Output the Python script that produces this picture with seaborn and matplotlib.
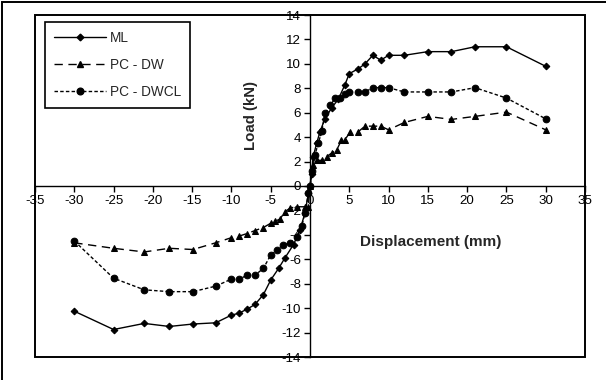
import numpy as np
import pandas as pd
import matplotlib
matplotlib.use("Agg")
import matplotlib.pyplot as plt
import seaborn as sns
from matplotlib.patches import Rectangle
from matplotlib.lines import Line2D

sns.set_theme(style="white")
plt.rcParams['font.family'] = ['Liberation Sans', 'DejaVu Sans']

# ---- data ----
ml_x = [-30.0, -25.0, -21.1, -17.9, -14.9, -12.0, -10.1, -9.0, -8.06, -7.0, -5.94, -5.0,
        -4.0, -3.2, -2.1, -1.27, -0.64, -0.2, 0.0, 0.2, 0.4, 0.85, 1.27, 1.9, 2.76, 3.6,
        4.45, 5.0, 6.15, 7.0, 8.0, 9.0, 10.0, 12.0, 15.0, 18.0, 21.0, 25.0, 30.0]
ml_y = [-10.25, -11.75, -11.25, -11.5, -11.3, -11.2, -10.6, -10.4, -10.1, -9.7, -8.9, -7.7,
        -6.75, -5.9, -4.8, -3.6, -2.2, -0.6, 0.0, 1.0, 2.4, 3.5, 4.45, 5.5, 6.4, 7.1,
        8.3, 9.2, 9.6, 10.0, 10.7, 10.3, 10.7, 10.7, 11.0, 11.0, 11.4, 11.4, 9.8]

dw_x = [-30.0, -25.0, -21.1, -17.9, -14.9, -12.0, -10.1, -9.0, -8.06, -7.0, -5.94, -5.0,
        -4.5, -3.8, -3.2, -2.5, -1.7, -0.64, -0.2, 0.0, 0.4, 0.85, 1.5, 2.1, 2.76, 3.4,
        4.0, 4.45, 5.1, 6.15, 7.0, 8.0, 9.0, 10.0, 12.0, 15.0, 18.0, 21.0, 25.0, 30.0]
dw_y = [-4.65, -5.1, -5.4, -5.1, -5.2, -4.65, -4.25, -4.1, -3.9, -3.65, -3.4, -3.05,
        -2.9, -2.7, -2.1, -1.8, -1.7, -1.7, -1.7, 0.0, 1.7, 2.1, 2.1, 2.4, 2.7, 2.95,
        3.75, 3.8, 4.4, 4.45, 4.9, 4.9, 4.9, 4.6, 5.2, 5.7, 5.45, 5.7, 6.05, 4.6]

dwcl_x = [-30.0, -25.0, -21.1, -17.9, -14.9, -12.0, -10.1, -9.0, -8.06, -7.0, -5.94, -5.0,
          -4.24, -3.4, -2.55, -1.7, -1.06, -0.64, -0.2, 0.0, 0.3, 0.6, 1.06, 1.5, 1.9,
          2.6, 3.2, 3.8, 4.4, 5.0, 6.1, 7.0, 8.0, 9.0, 10.0, 12.0, 15.0, 18.0, 21.0, 25.0, 30.0]
dwcl_y = [-4.5, -7.55, -8.5, -8.65, -8.65, -8.2, -7.65, -7.65, -7.3, -7.3, -6.75, -5.65,
          -5.25, -4.8, -4.7, -4.15, -3.3, -2.2, -0.6, 0.0, 1.2, 2.5, 3.5, 4.5, 5.95,
          6.6, 7.2, 7.2, 7.5, 7.7, 7.7, 7.7, 8.05, 8.05, 8.05, 7.7, 7.7, 7.7, 8.05, 7.2, 5.5]

labels = ["ML", "PC - DW", "PC - DWCL"]
x_ticks = [-35, -30, -25, -20, -15, -10, -5, 0, 5, 10, 15, 20, 25, 30, 35]
y_ticks = [-14, -12, -10, -8, -6, -4, -2, 0, 2, 4, 6, 8, 10, 12, 14]

W, H = 606, 380
fig = plt.figure(figsize=(W / 100, H / 100), dpi=100)
ax = fig.add_axes([35 / W, 1 - 357 / H, 550 / W, 342 / H])

styles = [
    dict(marker="D", markersize=3.4, linestyle="-"),
    dict(marker="^", markersize=4.8, linestyle=(0, (6, 4))),
    dict(marker="o", markersize=4.8, linestyle=(0, (2.5, 1.6))),
]
series = [(ml_x, ml_y), (dw_x, dw_y), (dwcl_x, dwcl_y)]
for (xs, ys), lab, st in zip(series, labels, styles):
    sns.lineplot(x=xs, y=ys, ax=ax, color="black", lw=1.0, sort=False, estimator=None,
                 marker=st["marker"], markersize=st["markersize"], linestyle=st["linestyle"],
                 markerfacecolor="black", markeredgecolor="black", label=lab)

ax.set_xlim(-35, 35)
ax.set_ylim(-14, 14)
ax.set_xticks(x_ticks)
ax.set_yticks(y_ticks)
ax.set_xticklabels([str(v) for v in x_ticks])
ax.set_yticklabels([str(v) for v in y_ticks])

for s in ["left", "bottom"]:
    ax.spines[s].set_position(("data", 0))
    ax.spines[s].set_color("black")
    ax.spines[s].set_linewidth(1.0)
for s in ["top", "right"]:
    ax.spines[s].set_visible(False)
ax.add_patch(Rectangle((0, 0), 1, 1, transform=ax.transAxes, fill=False,
                       edgecolor="black", lw=1.4, clip_on=False, zorder=5))
ax.tick_params(axis="both", direction="out", length=4.5, width=1.0, color="black",
               labelsize=9.6, labelcolor="black", pad=2)
ax.tick_params(axis="x", bottom=True)
ax.tick_params(axis="y", left=True)
ax.set_xlabel("")
ax.set_ylabel("")

fig.text(251 / W, 1 - 115 / H, "Load (kN)", rotation=90, ha="center", va="center",
         fontsize=10.8, fontweight="bold")
fig.text(431 / W, 1 - 242 / H, "Displacement (mm)", ha="center", va="center",
         fontsize=11, fontweight="bold")

handles = [Line2D([], [], color="black", lw=1.0, marker=st["marker"],
                  markersize=st["markersize"], linestyle=st["linestyle"],
                  markerfacecolor="black", markeredgecolor="black") for st in styles]
leg = ax.legend(handles, labels, loc="upper left",
                bbox_to_anchor=(45 / W, 1 - 22 / H), bbox_transform=fig.transFigure,
                frameon=True, fancybox=False, edgecolor="black", framealpha=1,
                fontsize=9.8, handlelength=3.8, labelspacing=0.95, borderpad=0.65,
                handletextpad=0.3, borderaxespad=0)
leg.get_frame().set_linewidth(1.2)

fig.patches.append(Rectangle((1.5 / W, -0.1), 1.2, 1.1 - 1.5 / H, transform=fig.transFigure,
                             fill=False, edgecolor="black", lw=1.4, figure=fig))

fig.savefig("out.png", dpi=100, facecolor="white")
